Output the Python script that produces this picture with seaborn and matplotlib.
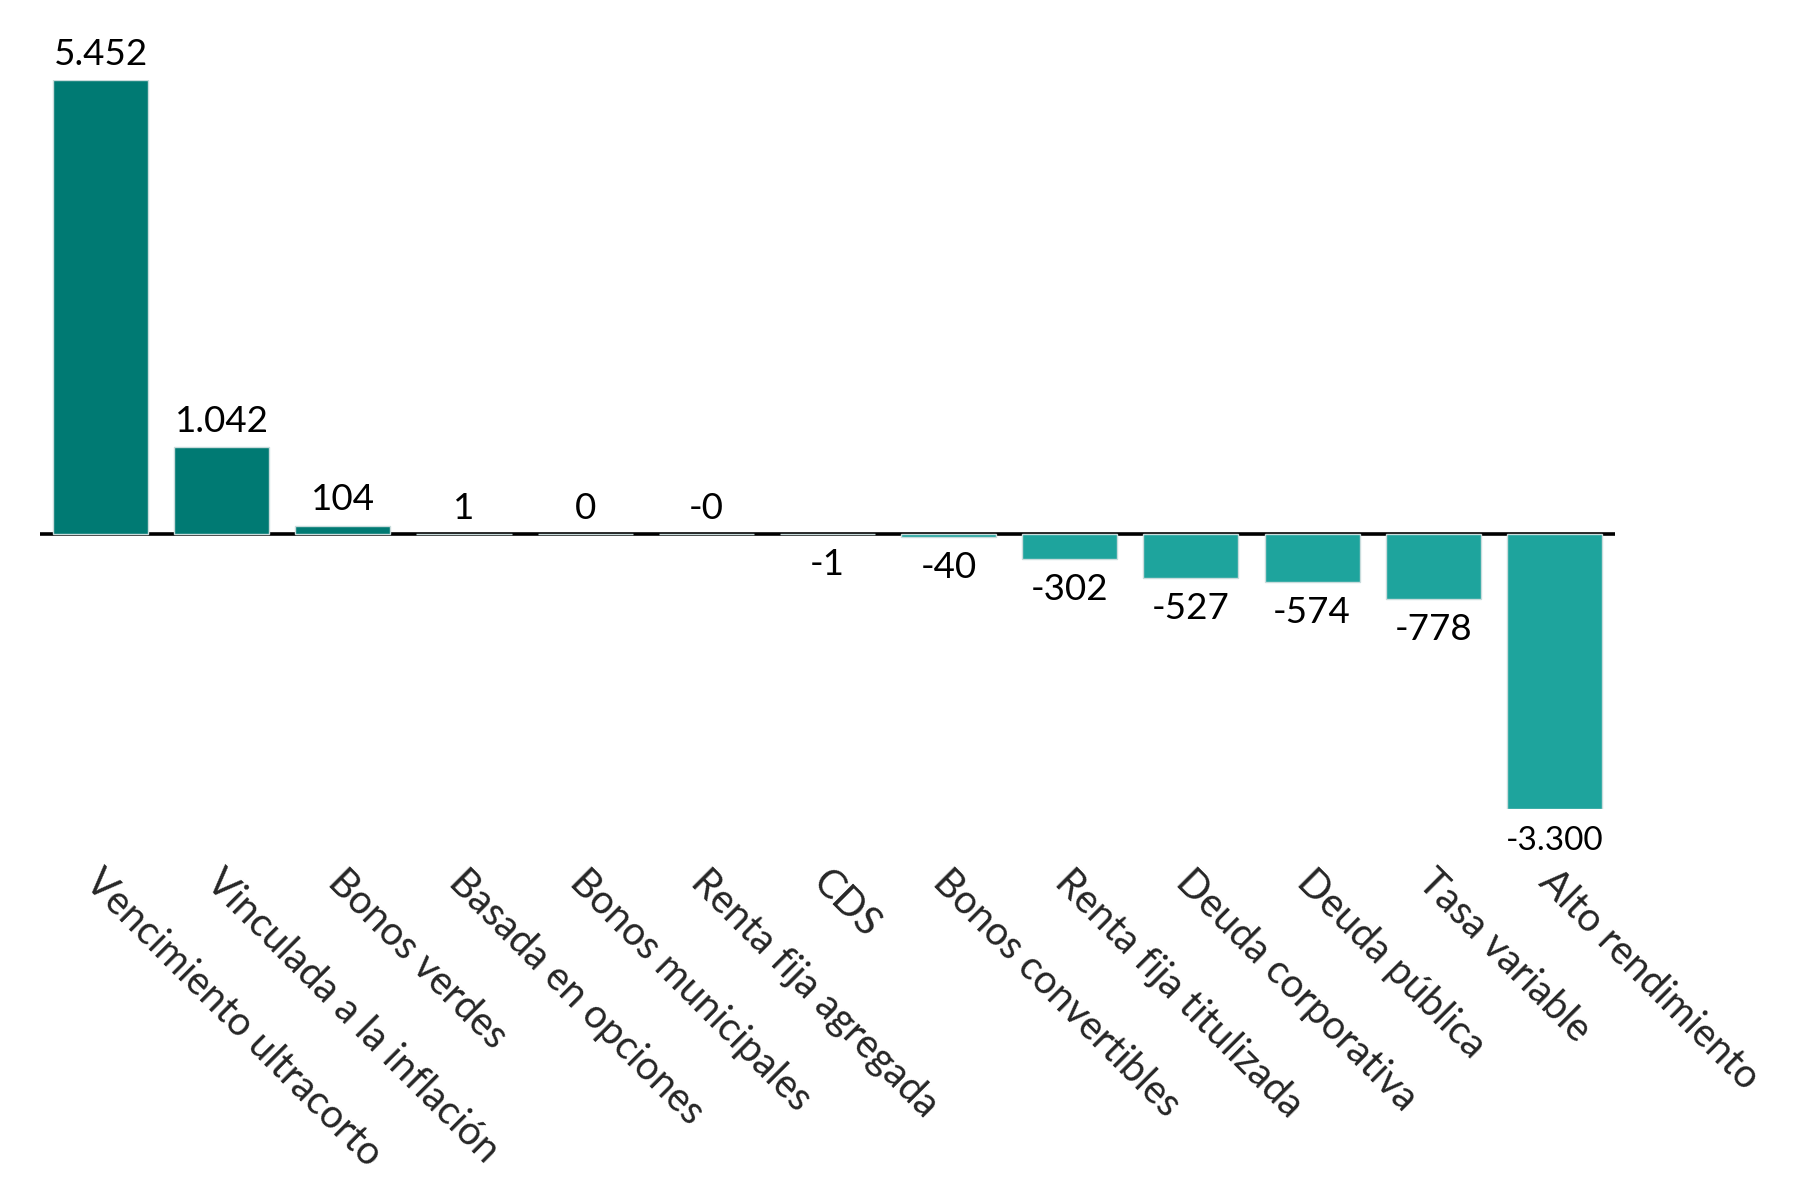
import matplotlib
matplotlib.use("Agg")
import matplotlib.pyplot as plt
import matplotlib.transforms as mtransforms
import seaborn as sns
import pandas as pd

categories = ["Vencimiento ultracorto", "Vinculada a la inflación", "Bonos verdes",
              "Basada en opciones", "Bonos municipales", "Renta fija agregada", "CDS",
              "Bonos convertibles", "Renta fija titulizada", "Deuda corporativa",
              "Deuda pública", "Tasa variable", "Alto rendimiento"]
values = [5452, 1042, 104, 1, 0, -0.0, -1, -40, -302, -527, -574, -778, -3300]
value_labels = ["5.452", "1.042", "104", "1", "0", "-0", "-1", "-40", "-302",
                "-527", "-574", "-778", "-3.300"]

DARK = "#007A73"
LIGHT = "#1EA49D"
colors = [DARK if i < 6 else LIGHT for i in range(len(values))]

sns.set_style("white")
plt.rcParams["font.family"] = ["Lato", "DejaVu Sans"]

df = pd.DataFrame({"cat": categories, "val": values})

fig = plt.figure(figsize=(18, 12), dpi=100)
ax = fig.add_axes([0.0222, 0.3258, 0.875, 0.6075])

sns.barplot(data=df, x="cat", y="val", hue="cat", palette=colors, legend=False,
            width=0.785, edgecolor="#c9dcdc", linewidth=1, saturation=1, ax=ax)

ax.set_xlim(-0.5, len(values) - 0.5)
ax.set_ylim(-3300, 5452)
ax.axhline(0, color="black", lw=2.6, zorder=1)
for bar in ax.patches:
    bar.set_zorder(2)

for i, (v, lab) in enumerate(zip(values, value_labels)):
    if v >= 0:
        off = 11
    else:
        off = -29.5
    size = 24 if lab == "-3.300" else 26.5
    ax.annotate(lab, (i, v), xytext=(0, off), textcoords="offset points",
                ha="center", va="baseline", fontsize=size, color="black",
                annotation_clip=False)

ax.set_xticks(range(len(categories)))
ax.set_xticklabels(categories, rotation=-45, ha="left", va="top",
                   rotation_mode="anchor", fontsize=28.5)
ax.tick_params(axis="x", length=0, pad=39)
shift = mtransforms.ScaledTranslation(4 / 100, 0, fig.dpi_scale_trans)
for t in ax.get_xticklabels():
    t.set_transform(t.get_transform() + shift)

ax.set_yticks([])
ax.set_xlabel("")
ax.set_ylabel("")
for s in ax.spines.values():
    s.set_visible(False)

fig.savefig("out.png", dpi=100, facecolor="white")
